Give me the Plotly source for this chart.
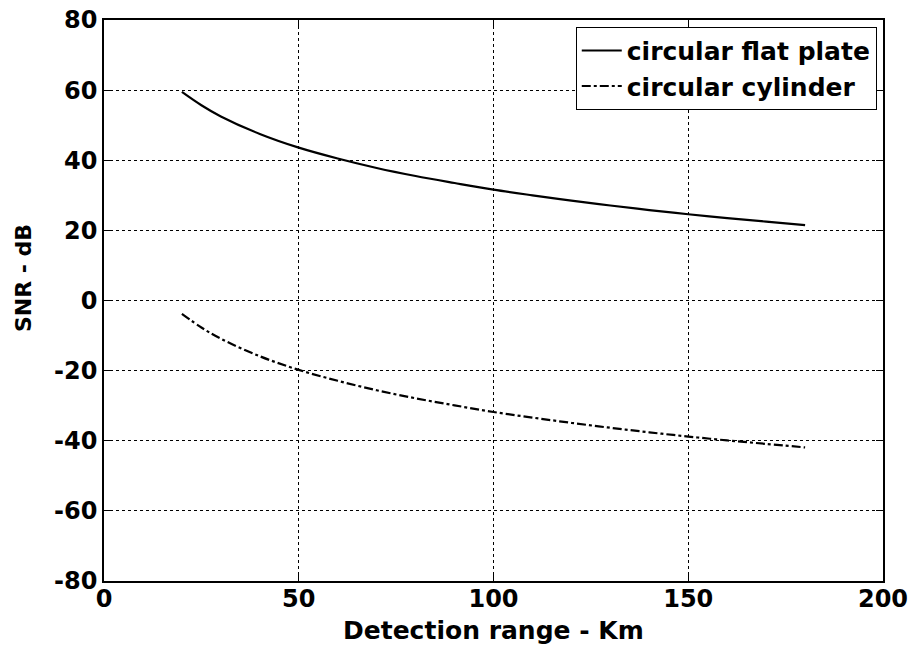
import plotly.graph_objects as go

# Detection range (km)
range_km = [20, 25, 30, 40, 50, 60, 70, 80, 90, 100, 110, 120, 130, 140, 150, 160, 170, 180]
# SNR (dB)
snr_flat_plate = [59.5, 55.7, 52.5, 47.5, 43.6, 40.5, 37.8, 35.5, 33.5, 31.6, 30.0, 28.5, 27.1, 25.8, 24.6, 23.5, 22.5, 21.5]
snr_cylinder = [-3.8, -7.7, -10.9, -15.9, -19.8, -22.9, -25.6, -27.9, -29.9, -31.8, -33.4, -34.9, -36.3, -37.6, -38.8, -39.9, -40.9, -41.9]

x_ticks = [0, 50, 100, 150, 200]
x_ticklabels = ["0", "50", "100", "150", "200"]
y_ticks = [-80, -60, -40, -20, 0, 20, 40, 60, 80]
y_ticklabels = ["-80", "-60", "-40", "-20", "0", "20", "40", "60", "80"]

FONT = "DejaVu Sans"

fig = go.Figure()
fig.add_trace(go.Scatter(x=range_km, y=snr_flat_plate, mode="lines",
                         name="<b>circular flat plate</b>",
                         line=dict(color="black", width=2.2, shape="spline")))
fig.add_trace(go.Scatter(x=range_km, y=snr_cylinder, mode="lines",
                         name="<b>circular cylinder</b>",
                         line=dict(color="black", width=2.2, dash="dashdot", shape="spline")))

axis_common = dict(
    showline=True, linecolor="black", linewidth=1.5, mirror="ticks",
    ticks="inside", ticklen=7, tickcolor="black", tickwidth=1,
    showgrid=True, gridcolor="black", gridwidth=1, griddash="3px,3px",
    zeroline=False, automargin=False,
    tickfont=dict(family=FONT, size=24, color="black", weight="bold"),
)

fig.update_xaxes(range=[0, 200], tickvals=x_ticks, ticktext=x_ticklabels,
                 ticklabelstandoff=-5, **axis_common)
fig.update_yaxes(range=[-80, 80], tickvals=y_ticks, ticktext=y_ticklabels, **axis_common)

# axis titles as annotations to match their placement
fig.add_annotation(text="<b>Detection range - Km</b>", xref="paper", yref="paper",
                   x=0.5, y=-0.089, xanchor="center", yanchor="middle", showarrow=False,
                   font=dict(family=FONT, size=25, color="black"))
fig.add_annotation(text="<b>SNR - dB</b>", xref="paper", yref="paper",
                   x=-0.104, y=0.54, xanchor="center", yanchor="middle", showarrow=False,
                   textangle=-90, font=dict(family=FONT, size=22, color="black"))

fig.update_layout(
    width=914, height=651,
    margin=dict(l=104, r=31, t=20, b=70),
    paper_bgcolor="white", plot_bgcolor="white",
    showlegend=True,
    legend=dict(x=0.992, y=0.988, xanchor="right", yanchor="top",
                bgcolor="white", bordercolor="black", borderwidth=1,
                font=dict(family=FONT, size=25, color="black"),
                tracegroupgap=0, itemwidth=40),
)

fig.write_html("out.html")
